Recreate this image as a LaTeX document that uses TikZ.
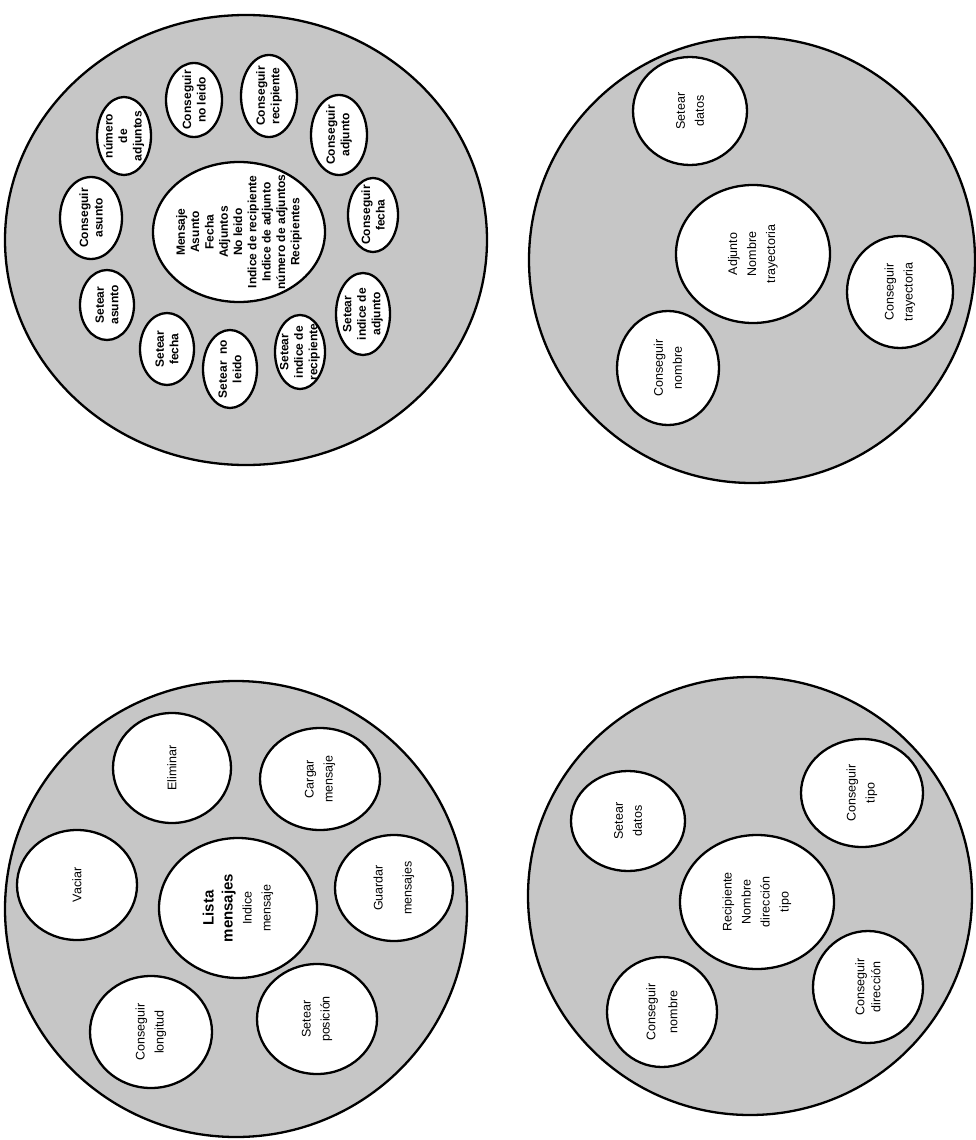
\documentclass[tikz,border=0pt]{standalone}
\usepackage{fontspec}
\setmainfont{Liberation Sans}
\usetikzlibrary{shapes.geometric}

\newcommand\titulo[1]{{\bfseries\fontsize{15}{19}\selectfont #1}}

\begin{document}
\begin{tikzpicture}[
	x=1pt, y=-1pt,
	line join=round,
	every node/.style={align=center, rotate=90},
	clase/.style={ellipse, draw, fill=gray!45, line width=2.3pt, inner sep=0pt},
	metodo/.style={ellipse, draw, fill=white, line width=2.3pt, inner sep=-14pt},
	rad/.style 2 args={minimum height=2*#1, minimum width=2*#2},
	chica/.style={font=\bfseries\fontsize{12}{14.5}\selectfont},
	texto/.style={font=\fontsize{12.5}{19}\selectfont}
	]
	
	\useasboundingbox (0,0) rectangle (976,1140);
	
	% Mensaje
	\node[clase, rad={241}{225}] (msj) at (246,240) {};
	\node[metodo, rad={86}{70}, font=\bfseries\fontsize{12}{14.3}\selectfont] (msjc) at (239,232)
	{Mensaje\\Asunto\\Fecha\\Adjuntos\\No leido\\Indice de recipiente\\Indice de adjunto\\número de adjuntos\\Recipientes};
	\node[metodo, chica, rad={28}{37}] (cnl) at (194,100) {Conseguir\\no leido};
	\node[metodo, chica, rad={28}{41}] (crec) at (269,96) {Conseguir\\recipiente};
	\node[metodo, chica, rad={27}{39}] (nadj) at (124,136) {número\\de\\adjuntos};
	\node[metodo, chica, rad={28}{40}] (cadj) at (339,135) {Conseguir\\adjunto};
	\node[metodo, chica, rad={31}{41}] (casu) at (91,218) {Conseguir\\asunto};
	\node[metodo, chica, rad={25}{37}] (cfec) at (373,215) {Conseguir\\fecha};
	\node[metodo, chica, rad={27}{35}] (sasu) at (107,305) {Setear\\asunto};
	\node[metodo, chica, rad={27}{41}] (siadj) at (363,314) {Setear\\indice de\\adjunto};
	\node[metodo, chica, rad={27}{36}] (sfec) at (167,349) {Setear\\fecha};
	\node[metodo, chica, rad={27}{39}] (snl) at (230,369) {Setear\ \ no\\leido};
	\node[metodo, chica, rad={25}{37}] (sirec) at (300,352) {Setear\\indice de\\recipiente};
	
	% Adjunto
	\node[clase, rad={223}{223}] (adj) at (752,260) {};
	\node[metodo, texto, rad={77}{69}] (adjc) at (753,254) {Adjunto\\Nombre\\trayectoria};
	\node[metodo, texto, rad={57}{54}] (adjsd) at (690,111) {Setear\\datos};
	\node[metodo, texto, rad={51}{57}] (adjcn) at (668,368) {Conseguir\\nombre};
	\node[metodo, texto, rad={53}{56}] (adjct) at (900,292) {Conseguir\\trayectoria};
	
	% Lista mensajes
	\node[clase, rad={231}{228}] (lst) at (236,909) {};
	\node[metodo, texto, rad={79}{70}] (lstc) at (238,908)
	{\titulo{Lista}\\\titulo{mensajes}\\Indice\\mensaje};
	\node[metodo, texto, rad={59}{55}] (elim) at (172,768) {Eliminar};
	\node[metodo, texto, rad={60}{51}] (carg) at (320,779) {Cargar\\mensaje};
	\node[metodo, texto, rad={60}{55}] (vac) at (77,885) {Vaciar};
	\node[metodo, texto, rad={59}{53}] (guar) at (394,888) {Guardar\\[10pt]mensajes};
	\node[metodo, texto, rad={61}{56}] (clon) at (151,1032) {Conseguir\\longitud};
	\node[metodo, texto, rad={60}{55}] (spos) at (317,1019) {Setear\\posición};
	
	% Recipiente
	\node[clase, rad={222}{219}] (rec) at (750,896) {};
	\node[metodo, texto, rad={77}{67}] (recc) at (757,902) {Recipiente\\Nombre\\dirección\\tipo};
	\node[metodo, texto, rad={57}{50}] (recsd) at (628,821) {Setear\\datos};
	\node[metodo, texto, rad={61}{54}] (recct) at (862,793) {Conseguir\\tipo};
	\node[metodo, texto, rad={55}{55}] (reccn) at (662,1012) {Conseguir\\[3pt]nombre};
	\node[metodo, texto, rad={55}{56}] (reccd) at (868,987) {Conseguir\\[-3pt]dirección};
	
\end{tikzpicture}
\end{document}
